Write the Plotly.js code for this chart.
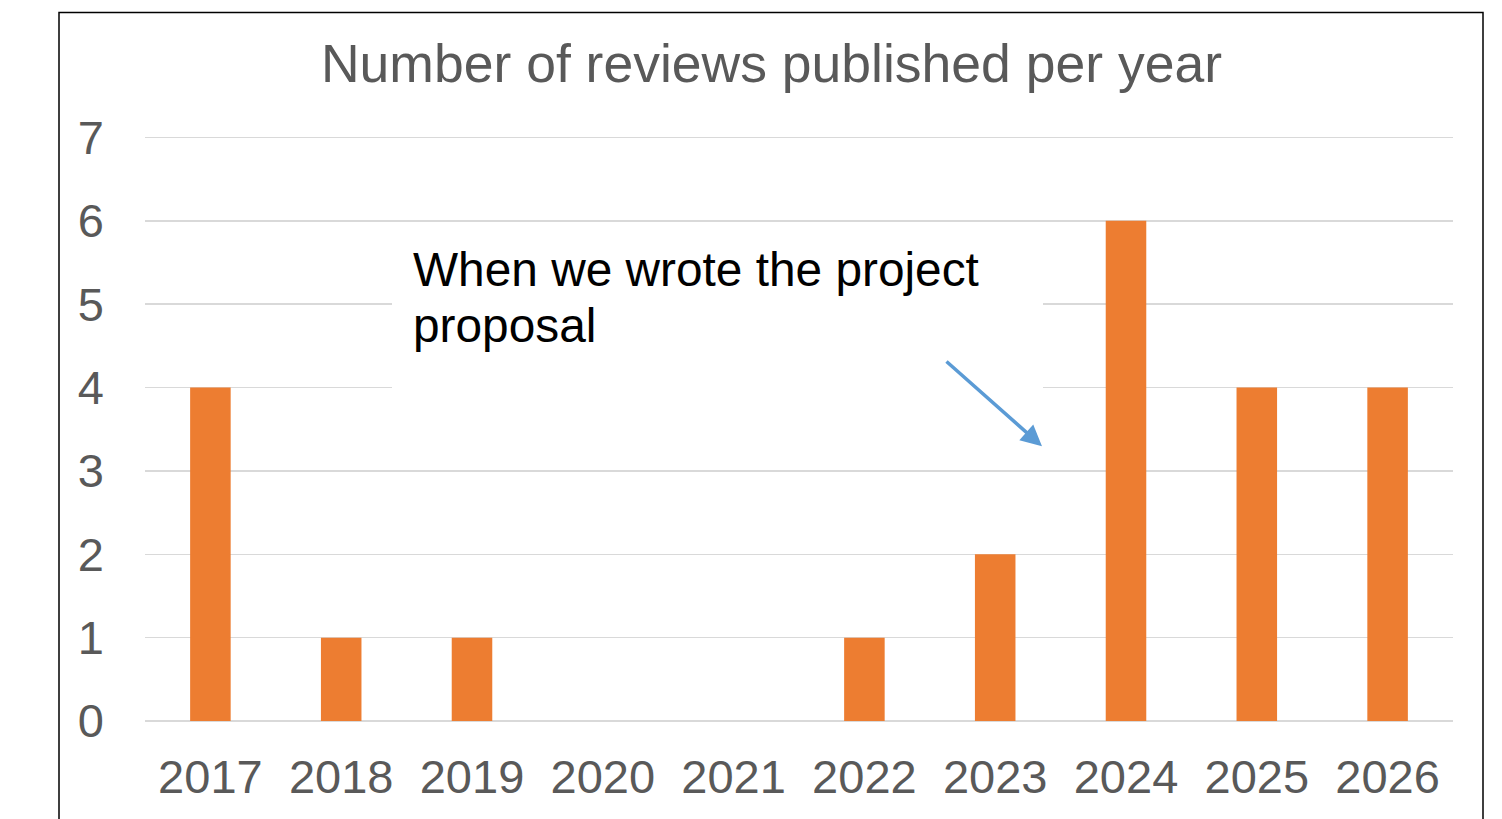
<!DOCTYPE html>
<html>
<head>
<meta charset="utf-8">
<script src="https://cdn.plot.ly/plotly-3.0.1.min.js"></script>
<style>html,body{margin:0;padding:0;background:#fff;}#chart{width:1502px;height:819px;}</style>
</head>
<body>
<div id="chart"></div>
<script>
const years = ["2017","2018","2019","2020","2021","2022","2023","2024","2025","2026"];
const reviews = [4, 1, 1, 0, 0, 1, 2, 6, 4, 4];
const yTicks = [0, 1, 2, 3, 4, 5, 6, 7];
const titleText = "Number of reviews published per year";
const noteLines = ["When we wrote the project", "proposal"];

const W = 1502, H = 819;
const L = 145, R = 49, T = 134.5, B = 98;
const pw = W - L - R, ph = H - T - B;
const px = v => (v - L) / pw;           // page x -> paper x
const py = v => (H - B - v) / ph;       // page y -> paper y

const trace = {
  type: "bar",
  x: years,
  y: reviews,
  marker: {color: "#ED7D31"},
  hoverinfo: "x+y"
};

const font = "Liberation Sans, Arial, sans-serif";

const layout = {
  width: W, height: H,
  margin: {l: L, r: R, t: T, b: B, pad: 0},
  paper_bgcolor: "#ffffff",
  plot_bgcolor: "#ffffff",
  showlegend: false,
  bargap: 0.69,
  font: {family: font, color: "#595959"},
  title: {
    text: titleText,
    font: {family: font, size: 53.5, color: "#595959"},
    x: 771.5 / W, xref: "container", xanchor: "center",
    y: 1 - 63.5 / H, yref: "container", yanchor: "middle"
  },
  xaxis: {
    type: "category",
    tickvals: years,
    ticktext: years,
    tickfont: {family: font, size: 47, color: "#595959"},
    showgrid: false,
    showline: false,
    ticks: "",
    ticklabelstandoff: 24,
    fixedrange: true
  },
  yaxis: {
    range: [0, 7.03],
    tickvals: yTicks,
    ticktext: yTicks.map(String),
    tickfont: {family: font, size: 47, color: "#595959"},
    showgrid: true,
    gridcolor: "#d9d9d9",
    gridwidth: 1.5,
    zeroline: true,
    zerolinecolor: "#d9d9d9",
    zerolinewidth: 1.5,
    showline: false,
    ticks: "",
    ticklabelstandoff: 40,
    fixedrange: true
  },
  shapes: [
    {type: "rect", xref: "paper", yref: "paper",
     x0: px(59), x1: px(1483), y0: py(860), y1: py(12),
     line: {color: "#000000", width: 1.5}, fillcolor: "rgba(0,0,0,0)", layer: "above"},
    {type: "rect", xref: "paper", yref: "paper",
     x0: px(392), x1: px(1043), y0: py(425), y1: py(232),
     line: {width: 0}, fillcolor: "#ffffff", layer: "above"}
  ],
  annotations: [
    {text: noteLines[0], xref: "paper", yref: "paper", x: px(411), y: py(269.5),
     xanchor: "left", yanchor: "middle", showarrow: false,
     font: {family: font, size: 47.8, color: "#000000"}},
    {text: noteLines[1], xref: "paper", yref: "paper", x: px(411), y: py(325),
     xanchor: "left", yanchor: "middle", showarrow: false,
     font: {family: font, size: 47.8, color: "#000000"}},
    {text: "", xref: "paper", yref: "paper", x: px(1042), y: py(446),
     axref: "pixel", ayref: "pixel", ax: 945 - 1042, ay: 360 - 446,
     showarrow: true, arrowhead: 2, arrowsize: 1.2, arrowwidth: 3.5,
     arrowcolor: "#5B9BD5", standoff: 0}
  ]
};

Plotly.newPlot("chart", [trace], layout, {displayModeBar: false, staticPlot: true});
</script>
</body>
</html>
